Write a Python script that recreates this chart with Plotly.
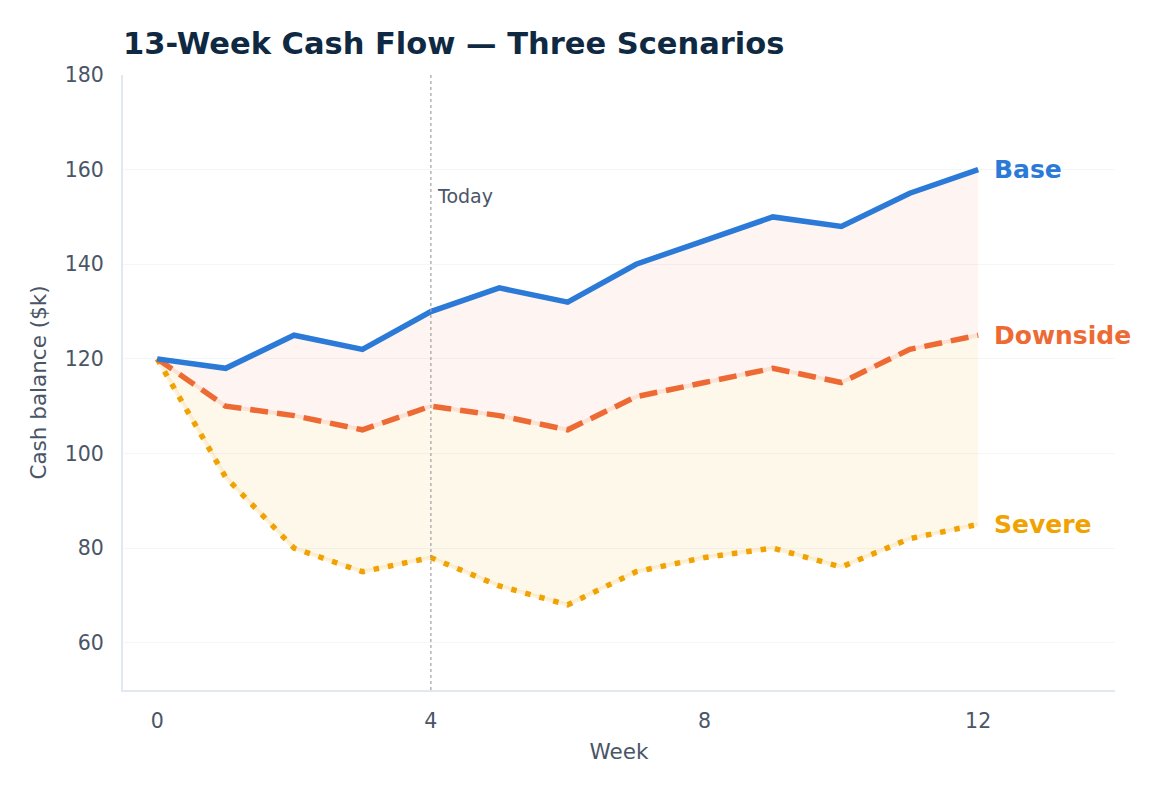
import plotly.graph_objects as go

weeks = list(range(13))
base = [120, 118, 125, 122, 130, 135, 132, 140, 145, 150, 148, 155, 160]
downside = [120, 110, 108, 105, 110, 108, 105, 112, 115, 118, 115, 122, 125]
severe = [120, 95, 80, 75, 78, 72, 68, 75, 78, 80, 76, 82, 85]
names = ["Base", "Downside", "Severe"]
colors = ["#2B7AD8", "#EE6A35", "#F0A202"]
today_week = 4

fig = go.Figure()
# fill bands
fig.add_trace(go.Scatter(x=weeks, y=base, mode="lines", line=dict(width=0, color="rgba(0,0,0,0)"),
                         showlegend=False, hoverinfo="skip"))
fig.add_trace(go.Scatter(x=weeks, y=downside, mode="lines", line=dict(width=4, color="rgba(238,106,53,0.14)"),
                         fill="tonexty", fillcolor="rgba(238,106,53,0.07)", showlegend=False, hoverinfo="skip"))
fig.add_trace(go.Scatter(x=weeks, y=severe, mode="lines", line=dict(width=4, color="rgba(240,162,2,0.14)"),
                         fill="tonexty", fillcolor="rgba(240,162,2,0.08)", showlegend=False, hoverinfo="skip"))

for series, name, color, dash in zip([severe, downside, base], names[::-1], colors[::-1],
                                     ["5.5px,9px", "18px,9px", "solid"]):
    fig.add_trace(go.Scatter(x=weeks, y=series, mode="lines", name=name,
                             line=dict(color=color, width=5.5, dash=dash), showlegend=False))

for series, name, color in zip([base, downside, severe], names, colors):
    fig.add_annotation(x=weeks[-1], y=series[-1], text=f"<b>{name}</b>", showarrow=False,
                       xanchor="left", xshift=14, font=dict(color=color, size=25, family="DejaVu Sans"))

fig.add_shape(type="line", x0=today_week, x1=today_week, y0=0, y1=1, yref="paper",
              line=dict(color="#A0A0A0", width=1.2, dash="dot"))
fig.add_annotation(x=today_week, y=154.5, text="Today", showarrow=False, xanchor="left", xshift=4,
                   font=dict(color="#4A5568", size=19, family="DejaVu Sans"))

fig.update_layout(
    width=1162, height=791,
    margin=dict(l=123, r=47, t=75, b=101),
    paper_bgcolor="white", plot_bgcolor="white",
    font=dict(family="DejaVu Sans", color="#4A5568", size=21),
    title=dict(text="<b>13-Week Cash Flow — Three Scenarios</b>", x=123/1162, xanchor="left",
               y=1-43/791, yanchor="middle", font=dict(size=30.5, color="#0F2942")),
    xaxis=dict(range=[-0.5, 14], tickvals=[0, 4, 8, 12], title=dict(text="Week", font=dict(size=21.5), standoff=12),
               showgrid=False, showline=True, linecolor="#E2E8F0", linewidth=2, zeroline=False,
               ticks="", ticklen=0, ticklabelstandoff=11, tickfont=dict(size=20.5)),
    yaxis=dict(range=[50, 180], dtick=20, tick0=0, title=dict(text="Cash balance ($k)", font=dict(size=21.5), standoff=12),
               showgrid=True, gridcolor="#F5F6F8", showline=True, linecolor="#E2E8F0", linewidth=2,
               zeroline=False, ticklabelstandoff=13, tickfont=dict(size=20.5)),
)

fig.write_html("out.html")
